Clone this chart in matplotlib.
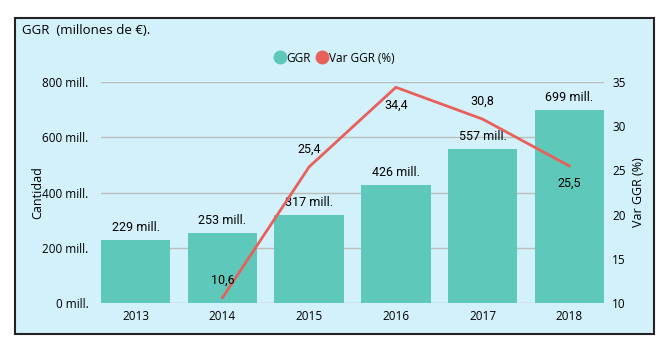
import matplotlib.pyplot as plt
from matplotlib.patches import Rectangle
from matplotlib.lines import Line2D

years = ["2013", "2014", "2015", "2016", "2017", "2018"]
ggr = [229, 253, 317, 426, 557, 699]
var_years = ["2014", "2015", "2016", "2017", "2018"]
var_ggr = [10.6, 25.4, 34.4, 30.8, 25.5]
left_ticks = [0, 200, 400, 600, 800]
right_ticks = [10, 15, 20, 25, 30, 35]

bg = "#D3F1FA"
teal = "#5EC8BA"
red = "#E8605A"

plt.rcParams['font.family'] = ['Open Sans', 'DejaVu Sans']

fig = plt.figure(figsize=(6.67, 3.51), dpi=100)
fig.patch.set_facecolor("white")

# marco exterior
fig.patches.append(Rectangle((15 / 667, 1 - 334 / 351), 639 / 667, 316 / 351,
                             transform=fig.transFigure, facecolor=bg,
                             edgecolor="#222222", linewidth=1.5, zorder=-1))

ax = fig.add_axes([101 / 667, 1 - 303 / 351, 503 / 667, 221 / 351])
ax.set_facecolor("none")
ax2 = ax.twinx()

x = list(range(len(years)))
ax.bar(x, ggr, width=0.8, color=teal, zorder=2)
for xi, v in zip(x, ggr):
    ax.text(xi, v + 22, f"{v} mill.", ha="center", va="bottom", fontsize=9,
            family=["Roboto", "DejaVu Sans"])

ax.set_xlim(-0.4, len(years) - 0.6)
ax.set_ylim(0, 800)
ax.set_yticks(left_ticks)
ax.set_yticklabels([f"{t} mill." for t in left_ticks])
ax.set_xticks(x)
ax.set_xticklabels(years)
ax.grid(axis="y", color="#BDBDBD", linewidth=1, zorder=0)
ax.set_axisbelow(True)
ax.set_ylabel("Cantidad", fontsize=9)
ax.yaxis.set_label_coords(-0.113, 0.5)
ax.tick_params(axis="y", length=0, labelsize=8.5, pad=9)
ax.tick_params(axis="x", length=0, labelsize=8.5, pad=5)
for s in ax.spines.values():
    s.set_visible(False)

xl = [years.index(y) for y in var_years]
ax2.plot(xl, var_ggr, color=red, linewidth=2, zorder=3)
offsets = [8, 8, -8, 8, -8]
for xi, v, off in zip(xl, var_ggr, offsets):
    ax2.annotate(f"{v:.1f}".replace(".", ","), (xi, v), xytext=(0, off),
                 textcoords="offset points", ha="center",
                 va="bottom" if off > 0 else "top", fontsize=9,
                 family=["Roboto", "DejaVu Sans"])
ax2.set_ylim(10, 35)
ax2.set_yticks(right_ticks)
ax2.set_ylabel("Var GGR (%)", fontsize=9)
ax2.tick_params(length=0, labelsize=8.5, pad=6)
for s in ax2.spines.values():
    s.set_visible(False)

fig.text(22 / 667, 1 - 30 / 351, "GGR  (millones de €).", fontsize=9.5, va="center")

handles = [Line2D([], [], marker="o", linestyle="none", markersize=9, color=teal),
           Line2D([], [], marker="o", linestyle="none", markersize=9, color=red)]
fig.legend(handles, ["GGR", "Var GGR (%)"], loc="center", bbox_to_anchor=(334 / 667, 1 - 58 / 351),
           ncol=2, frameon=False, fontsize=8.5, handletextpad=0.1, columnspacing=0.4,
           handlelength=1)

fig.savefig("out.png", dpi=100)
